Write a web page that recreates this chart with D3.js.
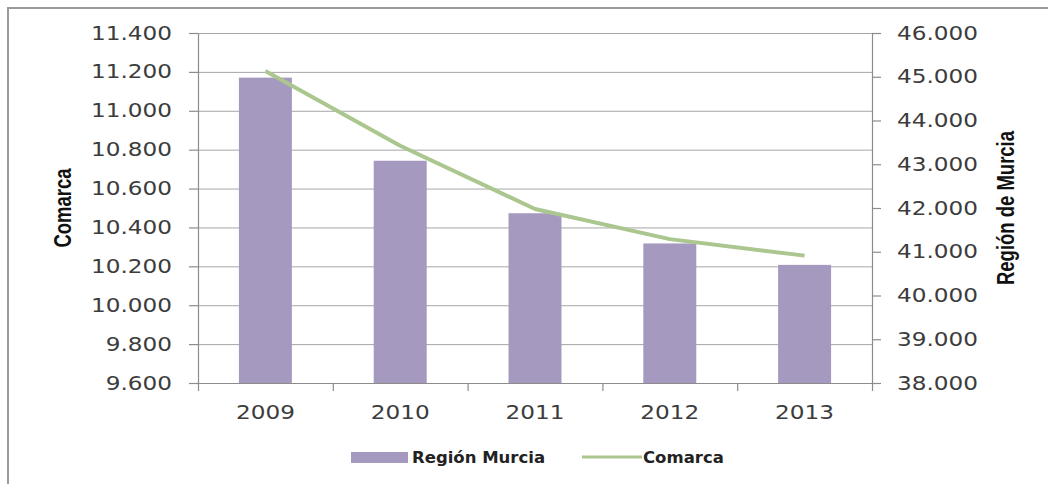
<!DOCTYPE html>
<html><head><meta charset="utf-8">
<script src="https://cdn.jsdelivr.net/npm/d3@7"></script>
<style>body{margin:0;background:#fff}svg{display:block}</style>
</head><body><svg id="c" width="1048" height="484"></svg>
<script>
const years = ["2009","2010","2011","2012","2013"];
const regionMurcia = [44980, 43080, 41880, 41190, 40700];
const comarca = [11205, 10820, 10495, 10340, 10255];
const leftTicks = [9600, 9800, 10000, 10200, 10400, 10600, 10800, 11000, 11200, 11400];
const rightTicks = [38000, 39000, 40000, 41000, 42000, 43000, 44000, 45000, 46000];
const seriesNames = ["Región Murcia", "Comarca"];
const axisTitles = ["Comarca", "Región de Murcia"];

const svg = d3.select("#c");
const L = 198, R = 872, T = 33, B = 383;
const SX = 1.22;
const loc = d3.formatLocale({decimal: ",", thousands: ".", grouping: [3], currency: ["", "€"]});
const fmt = loc.format(",");

// frame
svg.append("rect").attr("x", 8).attr("y", 8).attr("width", 1060).attr("height", 500)
  .attr("fill", "none").attr("stroke", "#9a9a9a").attr("stroke-width", 2);

const x = d3.scaleBand().domain(years).range([L, R]).paddingInner(0.607).paddingOuter(0.3035);
const xb = d3.scaleLinear().domain([0, years.length]).range([L, R]);
const yL = d3.scaleLinear().domain([9600, 11400]).range([B, T]);
const yR = d3.scaleLinear().domain([38000, 46000]).range([B, T]);

// gridlines
svg.append("g").attr("transform", `translate(${L},0)`)
  .call(d3.axisLeft(yL).tickValues(leftTicks).tickSize(-(R - L)).tickFormat(""))
  .call(g => g.select(".domain").remove())
  .call(g => g.selectAll("line").attr("stroke", "#a6a6a6").attr("stroke-width", 1));

// bars
svg.append("g").selectAll("rect").data(years).join("rect")
  .attr("x", d => x(d)).attr("width", x.bandwidth())
  .attr("y", (d, i) => yR(regionMurcia[i]))
  .attr("height", (d, i) => B - yR(regionMurcia[i]))
  .attr("fill", "#a699c0");

// line
const line = d3.line().x((d, i) => x(years[i]) + x.bandwidth() / 2).y(d => yL(d));
svg.append("path").datum(comarca).attr("d", line)
  .attr("fill", "none").attr("stroke", "#abc68e").attr("stroke-width", 4)
  .attr("stroke-linejoin", "round");

function styleAxis(g) {
  g.select(".domain").attr("stroke", "#8c8c8c").attr("stroke-width", 1.2);
  g.selectAll(".tick line").attr("stroke", "#8c8c8c").attr("stroke-width", 1.2);
  g.selectAll("text").attr("font-family", "DejaVu Sans").attr("font-size", 19).attr("fill", "#3c3c3c");
}

// left axis
svg.append("g").attr("transform", `translate(${L},0)`)
  .call(d3.axisLeft(yL).tickValues(leftTicks).tickFormat(fmt).tickSizeOuter(0).tickSizeInner(9))
  .call(styleAxis)
  .call(g => g.selectAll("text").attr("x", -26 / SX).attr("transform", `scale(${SX},1)`));

// right axis
svg.append("g").attr("transform", `translate(${R},0)`)
  .call(d3.axisRight(yR).tickValues(rightTicks).tickFormat(fmt).tickSizeOuter(0).tickSizeInner(9))
  .call(styleAxis)
  .call(g => g.selectAll("text").attr("x", 25 / SX).attr("transform", `scale(${SX},1)`));

// bottom axis: boundary ticks
svg.append("g").attr("transform", `translate(0,${B})`)
  .call(d3.axisBottom(xb).tickValues(d3.range(0, years.length + 1)).tickFormat("").tickSizeOuter(0).tickSizeInner(8))
  .call(styleAxis);
// bottom labels
svg.append("g").attr("transform", `translate(0,${B})`)
  .call(d3.axisBottom(x).tickSize(0))
  .call(g => g.select(".domain").remove())
  .call(styleAxis)
  .call(g => g.selectAll("text").attr("y", 36).attr("dy", 0).attr("transform", `scale(${SX},1)`));

// axis titles
svg.append("text").attr("transform", "translate(71,208) rotate(-90) scale(1,1.3)")
  .attr("text-anchor", "middle").attr("font-family", "Liberation Sans").attr("font-weight", "bold")
  .attr("font-size", 18.5).attr("fill", "#111").text(axisTitles[0]);
svg.append("text").attr("transform", "translate(1014,208) rotate(-90) scale(1,1.3)")
  .attr("text-anchor", "middle").attr("font-family", "Liberation Sans").attr("font-weight", "bold")
  .attr("font-size", 18.5).attr("fill", "#111").text(axisTitles[1]);

// legend
const lg = svg.append("g").attr("font-family", "DejaVu Sans").attr("font-weight", "bold")
  .attr("font-size", 16.5).attr("fill", "#222");
lg.append("rect").attr("x", 351).attr("y", 452).attr("width", 57).attr("height", 11).attr("fill", "#a699c0");
lg.append("text").attr("x", 412).attr("y", 463).text(seriesNames[0]);
lg.append("line").attr("x1", 582).attr("x2", 642).attr("y1", 457).attr("y2", 457)
  .attr("stroke", "#abc68e").attr("stroke-width", 3);
lg.append("text").attr("x", 643).attr("y", 463).text(seriesNames[1]);
</script></body></html>
